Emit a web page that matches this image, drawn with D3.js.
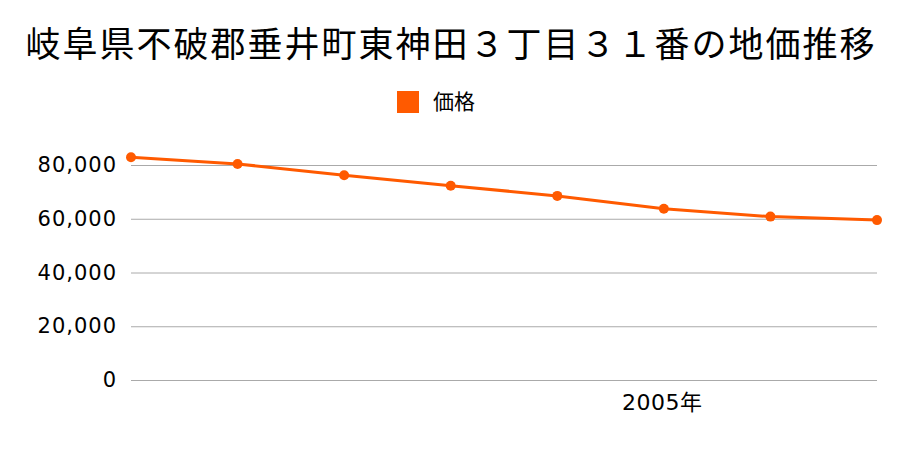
<!DOCTYPE html>
<html><head><meta charset="utf-8">
<script src="https://cdn.jsdelivr.net/npm/d3@7"></script>
<style>body{margin:0;background:#fff}svg{display:block}</style>
</head><body>
<svg id="c" width="900" height="450"></svg>
<script>
const title = "岐阜県不破郡垂井町東神田３丁目３１番の地価推移";
const seriesName = "価格";
const years = [2000, 2001, 2002, 2003, 2004, 2005, 2006, 2007];
const prices = [82900, 80400, 76200, 72300, 68500, 63700, 60800, 59500];
const yTicks = [0, 20000, 40000, 60000, 80000];
const xLabelYears = [2005];

const svg = d3.select("#c");
const font = "'Noto Sans CJK JP', 'Noto Sans', sans-serif";
const numFont = "'DejaVu Sans', 'Noto Sans CJK JP', sans-serif";
const color = "#ff5a00";
const x = d3.scalePoint().domain(years).range([131, 877]);
const y = d3.scaleLinear().domain([0, 80000]).range([380, 165]);

svg.append("text").attr("x", 451).attr("y", 57).attr("text-anchor", "middle")
  .attr("font-family", font).attr("font-size", 35).attr("letter-spacing", 2).attr("fill", "#000").text(title);

svg.append("rect").attr("x", 397).attr("y", 91).attr("width", 22).attr("height", 22).attr("fill", color);
svg.append("text").attr("x", 433).attr("y", 109).attr("font-family", font).attr("font-size", 21).attr("fill", "#000").text(seriesName);

const yAxis = d3.axisLeft(y).tickValues(yTicks).tickSize(-(877 - 131)).tickPadding(14)
  .tickFormat(d3.format(","));
const ga = svg.append("g").attr("transform", "translate(131,0)").call(yAxis);
ga.select(".domain").remove();
ga.selectAll(".tick line").attr("stroke", "#aaa").attr("stroke-width", 1);
ga.selectAll(".tick text").attr("font-family", numFont).attr("font-size", 21).attr("letter-spacing", 1).attr("fill", "#000");

const xAxis = d3.axisBottom(x).tickValues(xLabelYears).tickSize(0).tickPadding(14).tickFormat(d => d + "年");
const gx = svg.append("g").attr("transform", "translate(-2,380)").call(xAxis);
gx.select(".domain").remove();
gx.selectAll(".tick text").attr("font-family", numFont).attr("font-size", 22).attr("letter-spacing", 0.5).attr("fill", "#000");

const data = years.map((yr, i) => ({yr, v: prices[i]}));
svg.append("path").datum(data).attr("fill", "none").attr("stroke", color).attr("stroke-width", 3)
  .attr("d", d3.line().x(d => x(d.yr)).y(d => y(d.v)));
svg.selectAll("circle.pt").data(data).enter().append("circle").attr("class", "pt")
  .attr("cx", d => x(d.yr)).attr("cy", d => y(d.v)).attr("r", 5).attr("fill", color);
</script>
</body></html>
